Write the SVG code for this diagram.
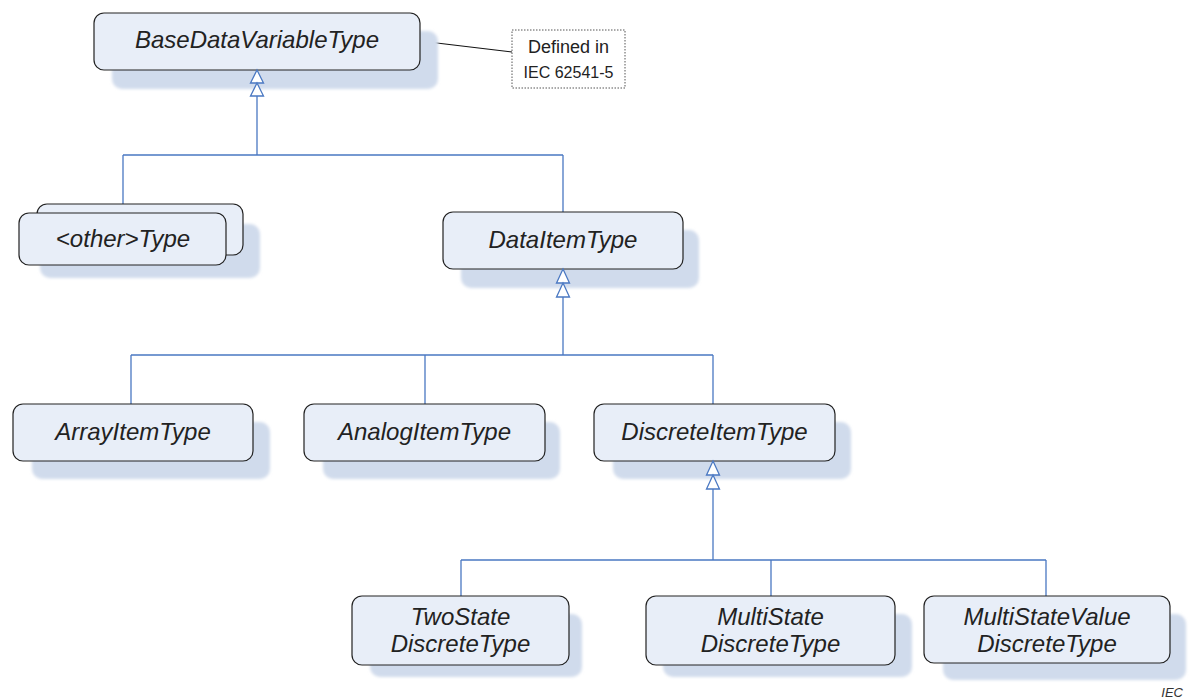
<svg xmlns="http://www.w3.org/2000/svg" width="1189" height="699" viewBox="0 0 1189 699">
<defs>
<filter id="blur" x="-10%" y="-10%" width="120%" height="120%"><feGaussianBlur stdDeviation="1.8"/></filter>
<style>
.sh{fill:#d0dbec;filter:url(#blur)}
.bx{fill:#e8eef8;stroke:#222;stroke-width:1.2}
.t{font-family:"Liberation Sans",Arial,sans-serif;font-style:italic;font-size:24px;fill:#222;text-anchor:middle}
.c{fill:none;stroke:#4a78c2;stroke-width:1.3}
.ah{fill:#fff;stroke:#4a78c2;stroke-width:1.3}
.n{font-family:"Liberation Sans",Arial,sans-serif;fill:#222;text-anchor:middle}
</style>
</defs>
<rect width="1189" height="699" fill="#fff"/>

<g id="connectors">
<line x1="420" y1="41" x2="512" y2="52" stroke="#111" stroke-width="1.1"/>
<path class="c" d="M257 96V155M123 155H563M123 155V213M563 155V212"/>
<path class="c" d="M563 297V355" stroke-width="1.8"/>
<path class="c" d="M131 355H713M131 355V404M425 355V404M713 355V404"/>
<path class="c" d="M713 489V560" stroke-width="1.8"/>
<path class="c" d="M461 560H1046M461 560V596M771 560V596M1046 560V596"/>
</g>

<g id="note">
<rect x="512" y="30" width="113" height="58" fill="#fff" stroke="#555" stroke-width="1" stroke-dasharray="1.5,1.5"/>
<text class="n" x="568.5" y="53" font-size="18">Defined in</text>
<text class="n" x="568.5" y="78" font-size="16">IEC 62541-5</text>
</g>

<g id="BaseDataVariableType">
<rect class="sh" x="112" y="31" width="326" height="58" rx="10"/>
<rect class="bx" x="94" y="13" width="326" height="57" rx="10"/>
<text class="t" x="257" y="48">BaseDataVariableType</text>
</g>

<g id="OtherType">
<rect class="sh" x="40" y="224" width="220" height="54" rx="10"/>
<rect class="bx" x="37" y="204" width="206" height="51" rx="10"/>
<rect class="bx" x="19" y="213" width="207" height="52" rx="10"/>
<text class="t" x="123" y="247">&lt;other&gt;Type</text>
</g>

<g id="DataItemType">
<rect class="sh" x="461" y="230" width="238" height="58" rx="10"/>
<rect class="bx" x="443" y="212" width="240" height="57" rx="10"/>
<text class="t" x="563" y="248">DataItemType</text>
</g>

<g id="ArrayItemType">
<rect class="sh" x="32" y="422" width="238" height="57" rx="10"/>
<rect class="bx" x="13" y="404" width="240" height="57" rx="10"/>
<text class="t" x="133" y="440">ArrayItemType</text>
</g>

<g id="AnalogItemType">
<rect class="sh" x="323" y="422" width="237" height="57" rx="10"/>
<rect class="bx" x="304" y="404" width="241" height="57" rx="10"/>
<text class="t" x="424.5" y="440">AnalogItemType</text>
</g>

<g id="DiscreteItemType">
<rect class="sh" x="613" y="422" width="238" height="57" rx="10"/>
<rect class="bx" x="594" y="404" width="241" height="57" rx="10"/>
<text class="t" x="714.5" y="440">DiscreteItemType</text>
</g>

<g id="TwoStateDiscreteType">
<rect class="sh" x="370" y="614" width="212" height="63" rx="10"/>
<rect class="bx" x="352" y="596" width="217" height="69" rx="10"/>
<text class="t" x="460.5" y="625">TwoState</text>
<text class="t" x="460.5" y="652">DiscreteType</text>
</g>

<g id="MultiStateDiscreteType">
<rect class="sh" x="663" y="614" width="249" height="63" rx="10"/>
<rect class="bx" x="646" y="596" width="249" height="69" rx="10"/>
<text class="t" x="770.5" y="625">MultiState</text>
<text class="t" x="770.5" y="652">DiscreteType</text>
</g>

<g id="MultiStateValueDiscreteType">
<rect class="sh" x="943" y="614" width="243" height="66" rx="10"/>
<rect class="bx" x="924" y="596" width="246" height="67" rx="10"/>
<text class="t" x="1047" y="625">MultiStateValue</text>
<text class="t" x="1047" y="652">DiscreteType</text>
</g>

<g id="arrowheads">
<polygon class="ah" points="257,70 263.5,83 250.5,83"/>
<polygon class="ah" points="257,83 263.5,96 250.5,96"/>
<polygon class="ah" points="563,269 569.5,283 556.5,283"/>
<polygon class="ah" points="563,283 569.5,297 556.5,297"/>
<polygon class="ah" points="713,461 719.5,475 706.5,475"/>
<polygon class="ah" points="713,475 719.5,489 706.5,489"/>
</g>

<text x="1183" y="697" font-family="Liberation Sans,Arial,sans-serif" font-style="italic" font-size="13" fill="#333" text-anchor="end">IEC</text>
</svg>
